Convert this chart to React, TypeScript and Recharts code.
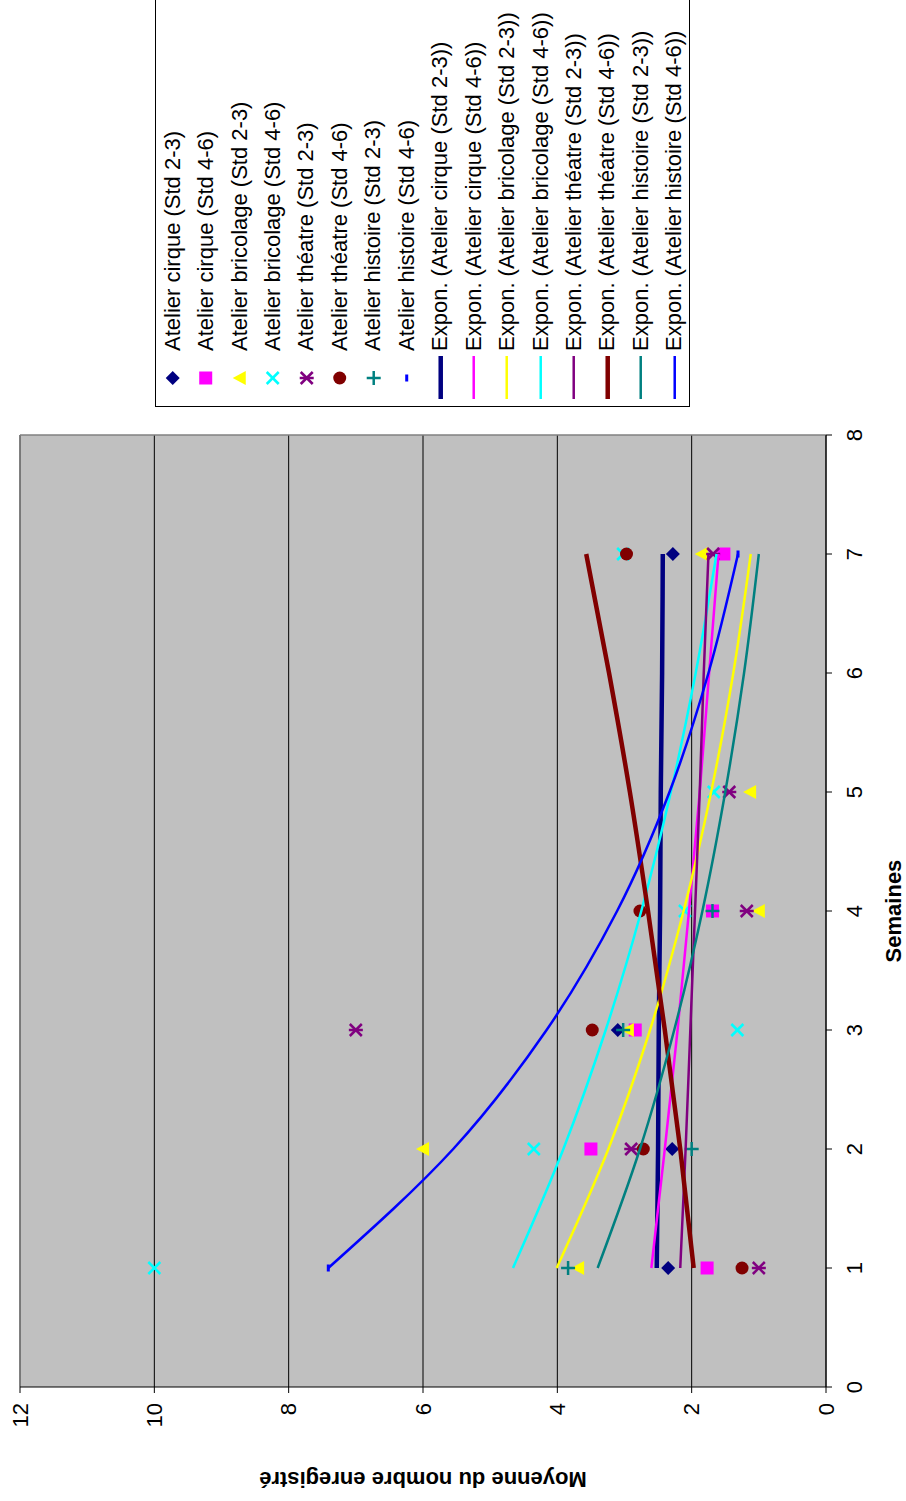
import React from 'react';
import { ComposedChart, Scatter, Line, XAxis, YAxis, CartesianGrid, ReferenceLine } from 'recharts';

// chart is drawn landscape, then turned a quarter turn to fit the portrait page
const CHART_W = 1501;
const CHART_H = 906;
const FONT = "'Liberation Sans', Arial, sans-serif";

const xTicks = [0, 1, 2, 3, 4, 5, 6, 7, 8];
const yTicks = [0, 2, 4, 6, 8, 10, 12];
const trendWeeks = [1, 2, 3, 4, 5, 6, 7];

// measured points (week, average)
const cirque23Weeks = [1, 2, 3, 7];
const cirque23Values = [2.35, 2.29, 3.1, 2.28];
const cirque46Weeks = [1, 2, 3, 4, 7];
const cirque46Values = [1.77, 3.5, 2.84, 1.69, 1.52];
const bricolage23Weeks = [1, 2, 3, 4, 5, 7];
const bricolage23Values = [3.69, 6.0, 2.95, 1.0, 1.13, 1.85];
const bricolage46Weeks = [1, 2, 3, 4, 5, 7];
const bricolage46Values = [10.0, 4.35, 1.32, 2.1, 1.67, 3.02];
const theatre23Weeks = [1, 2, 3, 4, 5, 7];
const theatre23Values = [1.0, 2.9, 7.0, 1.18, 1.44, 1.68];
const theatre46Weeks = [1, 2, 3, 4, 7];
const theatre46Values = [1.25, 2.72, 3.48, 2.77, 2.97];
const histoire23Weeks = [1, 2, 3, 4];
const histoire23Values = [3.84, 2.0, 3.02, 1.69];
const histoire46Weeks = [1, 7];
const histoire46Values = [7.41, 1.31];

// exponential trend lines, read at weeks 1..7
const trendCirque23 = [2.52, 2.5, 2.49, 2.47, 2.46, 2.44, 2.43];
const trendCirque46 = [2.6, 2.4, 2.21, 2.04, 1.88, 1.74, 1.6];
const trendBricolage23 = [4.01, 3.24, 2.62, 2.12, 1.71, 1.38, 1.12];
const trendBricolage46 = [4.66, 3.91, 3.28, 2.75, 2.31, 1.94, 1.63];
const trendTheatre23 = [2.17, 2.09, 2.02, 1.95, 1.88, 1.82, 1.75];
const trendTheatre46 = [1.97, 2.17, 2.4, 2.65, 2.92, 3.23, 3.57];
const trendHistoire23 = [3.4, 2.77, 2.26, 1.84, 1.5, 1.22, 1.0];
const trendHistoire46 = [7.41, 5.55, 4.16, 3.11, 2.33, 1.75, 1.31];

type Marker = 'diamond' | 'square' | 'triangle' | 'x' | 'star' | 'circle' | 'plus' | 'dash';

type SeriesDef = {
  label: string;
  color: string;
  marker: Marker;
  weeks: number[];
  values: number[];
  trend: number[];
  trendWidth: number;
};

const series: SeriesDef[] = [
  { label: 'Atelier cirque (Std 2-3)', color: '#000080', marker: 'diamond', weeks: cirque23Weeks, values: cirque23Values, trend: trendCirque23, trendWidth: 4.5 },
  { label: 'Atelier cirque (Std 4-6)', color: '#FF00FF', marker: 'square', weeks: cirque46Weeks, values: cirque46Values, trend: trendCirque46, trendWidth: 2.5 },
  { label: 'Atelier bricolage (Std 2-3)', color: '#FFFF00', marker: 'triangle', weeks: bricolage23Weeks, values: bricolage23Values, trend: trendBricolage23, trendWidth: 2.5 },
  { label: 'Atelier bricolage (Std 4-6)', color: '#00FFFF', marker: 'x', weeks: bricolage46Weeks, values: bricolage46Values, trend: trendBricolage46, trendWidth: 2.5 },
  { label: 'Atelier théatre (Std 2-3)', color: '#800080', marker: 'star', weeks: theatre23Weeks, values: theatre23Values, trend: trendTheatre23, trendWidth: 2.5 },
  { label: 'Atelier théatre (Std 4-6)', color: '#800000', marker: 'circle', weeks: theatre46Weeks, values: theatre46Values, trend: trendTheatre46, trendWidth: 4.5 },
  { label: 'Atelier histoire (Std 2-3)', color: '#008080', marker: 'plus', weeks: histoire23Weeks, values: histoire23Values, trend: trendHistoire23, trendWidth: 2.5 },
  { label: 'Atelier histoire (Std 4-6)', color: '#0000FF', marker: 'dash', weeks: histoire46Weeks, values: histoire46Values, trend: trendHistoire46, trendWidth: 2.5 },
];

const drawMarker = (kind: Marker, color: string, cx: number, cy: number) => {
  switch (kind) {
    case 'diamond':
      return <polygon points={`${cx},${cy - 7} ${cx + 7},${cy} ${cx},${cy + 7} ${cx - 7},${cy}`} fill={color} />;
    case 'square':
      return <rect x={cx - 6.5} y={cy - 6.5} width={13} height={13} fill={color} />;
    case 'triangle':
      return <polygon points={`${cx},${cy - 7} ${cx + 7},${cy + 6} ${cx - 7},${cy + 6}`} fill={color} />;
    case 'x':
      return (
        <g stroke={color} strokeWidth={2.5}>
          <line x1={cx - 6} y1={cy - 6} x2={cx + 6} y2={cy + 6} />
          <line x1={cx - 6} y1={cy + 6} x2={cx + 6} y2={cy - 6} />
        </g>
      );
    case 'star':
      return (
        <g stroke={color} strokeWidth={2.5}>
          <line x1={cx - 6} y1={cy - 6} x2={cx + 6} y2={cy + 6} />
          <line x1={cx - 6} y1={cy + 6} x2={cx + 6} y2={cy - 6} />
          <line x1={cx} y1={cy - 7} x2={cx} y2={cy + 7} />
        </g>
      );
    case 'circle':
      return <circle cx={cx} cy={cy} r={6.5} fill={color} />;
    case 'plus':
      return (
        <g stroke={color} strokeWidth={2.5}>
          <line x1={cx - 7} y1={cy} x2={cx + 7} y2={cy} />
          <line x1={cx} y1={cy - 7} x2={cx} y2={cy + 7} />
        </g>
      );
    case 'dash':
      return <rect x={cx - 3.5} y={cy - 1.5} width={7} height={3} fill={color} />;
  }
};

const makeShape = (kind: Marker, color: string) => (props: any) => {
  if (props.cx == null || props.cy == null) return <g />;
  return drawMarker(kind, color, props.cx, props.cy);
};

const ROW_H = 535 / 16;

const LegendBox = () => (
  <div
    style={{
      position: 'absolute',
      left: 1094,
      top: 155,
      width: 430,
      height: 535,
      border: '1px solid #000',
      background: '#fff',
      boxSizing: 'border-box',
      fontFamily: FONT,
      fontSize: 22,
      color: '#000',
    }}
  >
    {series.map((s) => (
      <div key={s.label} style={{ height: ROW_H, display: 'flex', alignItems: 'center', whiteSpace: 'nowrap' }}>
        <svg width={55} height={ROW_H}>{drawMarker(s.marker, s.color, 28, ROW_H / 2)}</svg>
        <span>{s.label}</span>
      </div>
    ))}
    {series.map((s) => (
      <div key={'t' + s.label} style={{ height: ROW_H, display: 'flex', alignItems: 'center', whiteSpace: 'nowrap' }}>
        <svg width={55} height={ROW_H}>
          <line x1={7} y1={ROW_H / 2} x2={50} y2={ROW_H / 2} stroke={s.color} strokeWidth={s.trendWidth} />
        </svg>
        <span>Expon. ({s.label})</span>
      </div>
    ))}
  </div>
);

export default function App() {
  const tickStyle = { fill: '#000', fontSize: 22, fontFamily: FONT };
  return (
    <div style={{ position: 'absolute', left: 0, top: 0, width: CHART_H, height: CHART_W, overflow: 'hidden', background: '#fff' }}>
      <div
        style={{
          position: 'absolute',
          left: 0,
          top: 0,
          width: CHART_W,
          height: CHART_H,
          overflow: 'hidden',
          transformOrigin: '0 0',
          transform: `translate(0px, ${CHART_W}px) rotate(-90deg)`,
          background: '#fff',
        }}
      >
        <ComposedChart width={CHART_W} height={CHART_H} margin={{ top: 20, right: 435, bottom: 0, left: 0 }}>
          <CartesianGrid vertical={false} stroke="#000" fill="#C0C0C0" fillOpacity={1} />
          <XAxis
            type="number"
            dataKey="x"
            domain={[0, 8]}
            ticks={xTicks}
            allowDecimals={false}
            height={80}
            tickSize={6}
            tickMargin={14}
            tick={tickStyle}
            axisLine={{ stroke: '#000' }}
            tickLine={{ stroke: '#000' }}
            label={{ value: 'Semaines', position: 'insideBottom', offset: 5, style: { fontSize: 22, fontWeight: 'bold', fill: '#000', fontFamily: FONT } }}
          />
          <YAxis
            type="number"
            dataKey="y"
            domain={[0, 12]}
            ticks={yTicks}
            width={114}
            tickSize={6}
            tickMargin={10}
            tick={tickStyle}
            axisLine={{ stroke: '#000' }}
            tickLine={{ stroke: '#000' }}
            label={{
              value: 'Moyenne du nombre enregistré',
              angle: -90,
              position: 'insideLeft',
              offset: 21,
              style: { textAnchor: 'middle', fontSize: 22, fontWeight: 'bold', fill: '#000', fontFamily: FONT },
            }}
          />
          <ReferenceLine y={12} stroke="#808080" strokeWidth={1.5} />
          <ReferenceLine x={8} stroke="#808080" strokeWidth={1.5} />
          {series.map((s) => (
            <Scatter
              key={s.label}
              name={s.label}
              data={s.weeks.map((w, i) => ({ x: w, y: s.values[i] }))}
              dataKey="y"
              shape={makeShape(s.marker, s.color)}
              isAnimationActive={false}
            />
          ))}
          {series.map((s) => (
            <Line
              key={'trend-' + s.label}
              name={'Expon. (' + s.label + ')'}
              data={trendWeeks.map((w, i) => ({ x: w, y: s.trend[i] }))}
              dataKey="y"
              type="monotone"
              stroke={s.color}
              strokeWidth={s.trendWidth}
              dot={false}
              activeDot={false}
              zIndex={700}
              isAnimationActive={false}
            />
          ))}
        </ComposedChart>
        <LegendBox />
      </div>
    </div>
  );
}
